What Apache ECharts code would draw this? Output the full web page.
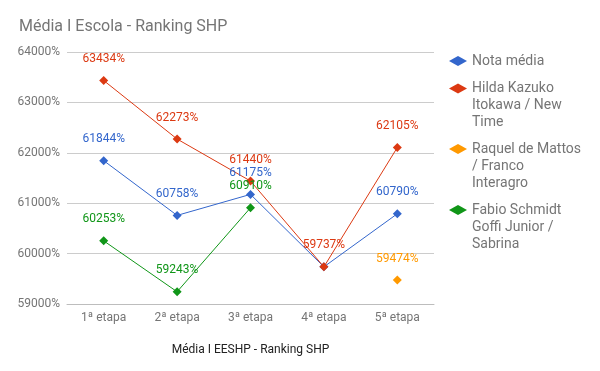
<!DOCTYPE html>
<html>
<head>
<meta charset="utf-8">
<script src="https://cdn.jsdelivr.net/npm/echarts@6/dist/echarts.min.js"></script>
<style>html,body{margin:0;padding:0;background:#fff}#c{width:600px;height:371px}</style>
</head>
<body>
<div id="c"></div>
<script>
var categories = ['1ª etapa', '2ª etapa', '3ª etapa', '4ª etapa', '5ª etapa'];
var seriesNames = ['Nota média', 'Hilda Kazuko Itokawa / New Time', 'Raquel de Mattos / Franco Interagro', 'Fabio Schmidt Goffi Junior / Sabrina'];
var notaMedia = [61844, 60758, 61175, 59737, 60790];
var hilda = [63434, 62273, 61440, 59737, 62105];
var raquel = [null, null, null, null, 59474];
var fabio = [60253, 59243, 60910, null, null];
var colors = ['#3366cc', '#dc3912', '#ff9900', '#109618'];
var yTicks = { min: 59000, max: 64000, interval: 1000 };

var values = [notaMedia, hilda, raquel, fabio];
var font = 'Roboto, Arial, sans-serif';
var legendFontSize = 14;
var legendLineHeight = 17;
var legendWrapWidth = 111;

function buildData(idx) {
  return values[idx].map(function (v, i) {
    var hidden = false;
    for (var k = idx + 1; k < values.length; k++) {
      if (v != null && values[k][i] === v) hidden = true;
    }
    return hidden ? { value: v, label: { show: false } } : v;
  });
}

var measureCtx = document.createElement('canvas').getContext('2d');
measureCtx.font = legendFontSize + 'px Roboto';
function wrapWords(text, maxW) {
  var words = text.split(' ');
  var lines = [];
  var cur = '';
  words.forEach(function (w) {
    var test = cur ? cur + ' ' + w : w;
    if (cur && measureCtx.measureText(test).width > maxW) {
      lines.push(cur);
      cur = w;
    } else {
      cur = test;
    }
  });
  if (cur) lines.push(cur);
  return lines;
}
// icon aligned with the first line: pad with empty lines above so the block centre sits on line 1
function legendText(name) {
  var lines = wrapWords(name, legendWrapWidth);
  var pad = [];
  for (var i = 1; i < lines.length; i++) pad.push('');
  return pad.concat(lines).join('\n');
}

var series = seriesNames.map(function (name, idx) {
  return {
    name: name,
    type: 'line',
    data: buildData(idx),
    symbol: 'diamond',
    symbolSize: 9,
    symbolKeepAspect: true,
    connectNulls: false,
    itemStyle: { color: colors[idx] },
    lineStyle: { width: 1, color: colors[idx] },
    label: {
      show: true,
      position: 'top',
      distance: 11,
      formatter: '{c}%',
      color: colors[idx],
      fontSize: 12,
      fontFamily: font
    },
    emphasis: { disabled: true }
  };
});

// icon centre y for each legend entry
var legendIconY = [61, 88.5, 149, 210];
var legends = seriesNames.map(function (name, idx) {
  var n = wrapWords(name, legendWrapWidth).length;
  var half = (2 * n - 1) * legendLineHeight / 2;
  return {
    orient: 'vertical',
    left: 449,
    top: legendIconY[idx] - half,
    padding: 0,
    itemWidth: 18,
    itemHeight: 10,
    icon: 'diamond',
    selectedMode: false,
    data: [name],
    formatter: legendText,
    textStyle: {
      color: '#757575',
      fontSize: legendFontSize,
      fontFamily: font,
      lineHeight: legendLineHeight
    }
  };
});

var chart = echarts.init(document.getElementById('c'), null, { renderer: 'canvas' });
chart.setOption({
  animation: false,
  color: colors,
  title: {
    text: 'Média I Escola - Ranking SHP',
    left: 19,
    top: 19,
    padding: 0,
    textStyle: { color: '#757575', fontSize: 16, fontWeight: 'normal', fontFamily: font }
  },
  legend: legends,
  grid: { left: 67, right: 166, top: 52, bottom: 67, containLabel: false },
  xAxis: {
    type: 'category',
    data: categories,
    boundaryGap: true,
    axisTick: { show: false },
    axisLine: { lineStyle: { color: '#bdbdbd', width: 1 } },
    axisLabel: { color: '#757575', fontSize: 12, fontFamily: font, margin: 8 },
    name: 'Média I EESHP - Ranking SHP',
    nameLocation: 'middle',
    nameGap: 40,
    nameTextStyle: { color: '#222222', fontSize: 12, fontFamily: font }
  },
  yAxis: {
    type: 'value',
    min: yTicks.min,
    max: yTicks.max,
    interval: yTicks.interval,
    axisLine: { show: false },
    axisTick: { show: false },
    splitLine: { lineStyle: { color: '#cccccc', width: 1 } },
    axisLabel: {
      color: '#757575', fontSize: 12, fontFamily: font, margin: 7,
      formatter: function (v) { return v + '%'; }
    }
  },
  series: series
});
</script>
</body>
</html>
